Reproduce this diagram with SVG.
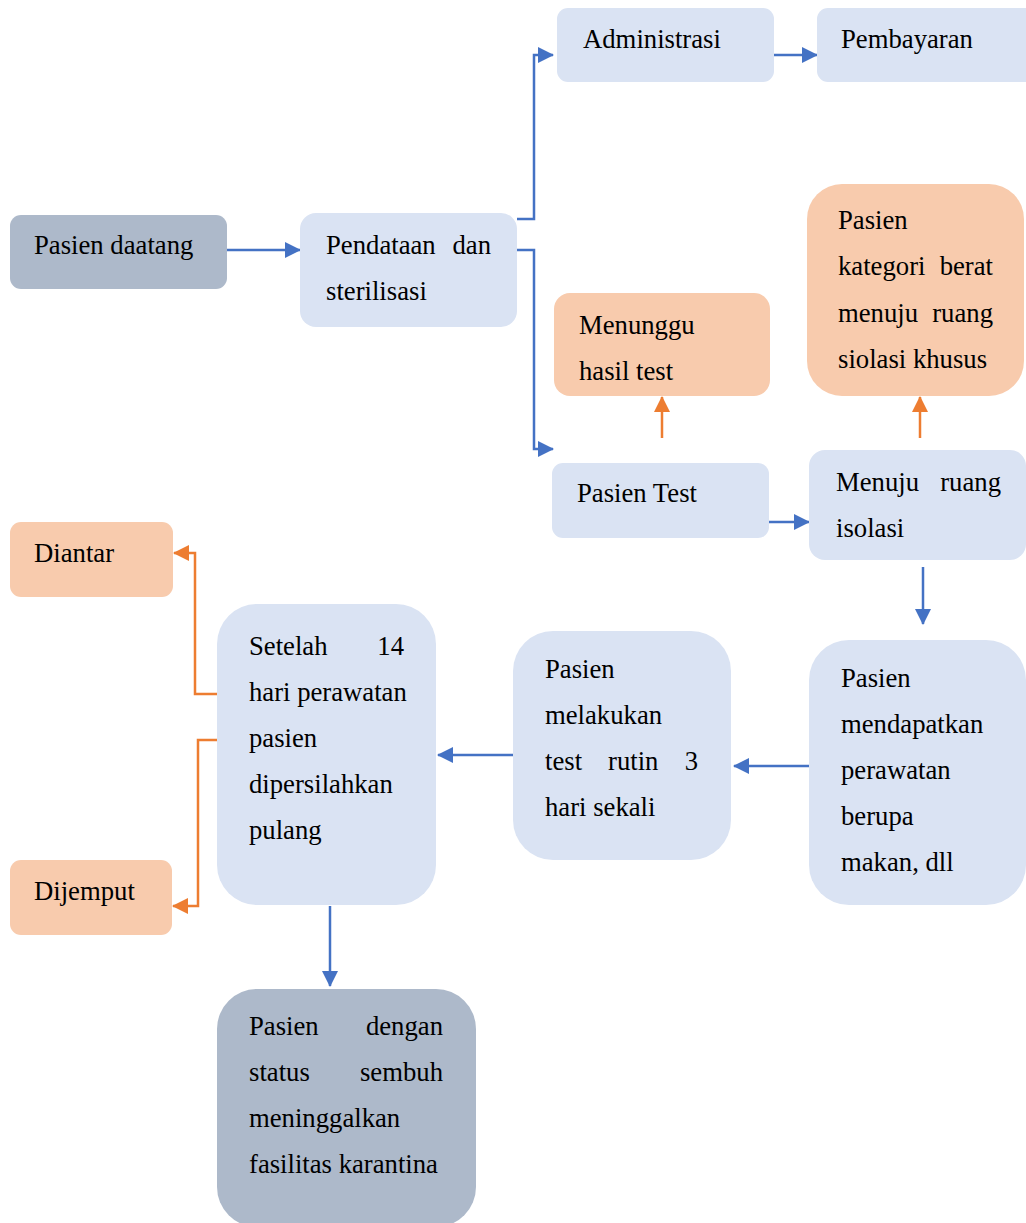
<svg xmlns="http://www.w3.org/2000/svg" width="1026" height="1223" viewBox="0 0 1026 1223">
  <style>
    .blue { fill: #DAE3F3; }
    .orange { fill: #F8CBAD; }
    .gray { fill: #ADB9CA; }
    .lb { fill: none; stroke: #4472C4; stroke-width: 2.5; }
    .lo { fill: none; stroke: #ED7D31; stroke-width: 2.5; }
  </style>
  <defs>
    <marker id="ab" markerUnits="userSpaceOnUse" markerWidth="16" markerHeight="16" refX="15" refY="8" orient="auto">
      <path d="M0,0 L16,8 L0,16 Z" fill="#4472C4"/>
    </marker>
    <marker id="ao" markerUnits="userSpaceOnUse" markerWidth="16" markerHeight="16" refX="15" refY="8" orient="auto">
      <path d="M0,0 L16,8 L0,16 Z" fill="#ED7D31"/>
    </marker>
  </defs>

  <rect width="1026" height="1223" fill="#fff"/>

  <g id="connectors">
    <path class="lb" d="M227,250 H300" marker-end="url(#ab)"/>
    <path class="lb" d="M517,219 H534 V55 H553" marker-end="url(#ab)"/>
    <path class="lb" d="M517,250 H534 V449 H553" marker-end="url(#ab)"/>
    <path class="lb" d="M774,55 H817" marker-end="url(#ab)"/>
    <path class="lo" d="M662,438 V397" marker-end="url(#ao)"/>
    <path class="lb" d="M769,522 H809" marker-end="url(#ab)"/>
    <path class="lo" d="M920,438 V397" marker-end="url(#ao)"/>
    <path class="lb" d="M923,567 V624" marker-end="url(#ab)"/>
    <path class="lb" d="M809,766 H734" marker-end="url(#ab)"/>
    <path class="lb" d="M513,755 H438" marker-end="url(#ab)"/>
    <path class="lo" d="M217,694 H195 V553 H174" marker-end="url(#ao)"/>
    <path class="lo" d="M217,740 H198 V906 H173" marker-end="url(#ao)"/>
    <path class="lb" d="M330,906 V986" marker-end="url(#ab)"/>
  </g>

  <g id="pasien-datang">
    <rect class="gray" x="10" y="215" width="217" height="74" rx="11"/>
    <text font-family="Liberation Serif" font-size="26.7" x="34" y="254">Pasien daatang</text>
  </g>

  <g id="pendataan">
    <rect class="blue" x="300" y="213" width="217" height="114" rx="16"/>
    <text font-family="Liberation Serif" font-size="26.7" x="326" y="254">Pendataan</text>
    <text font-family="Liberation Serif" font-size="26.7" text-anchor="end" x="491" y="254">dan</text>
    <text font-family="Liberation Serif" font-size="26.7" x="326" y="300">sterilisasi</text>
  </g>

  <g id="administrasi">
    <rect class="blue" x="557" y="8" width="217" height="74" rx="11"/>
    <text font-family="Liberation Serif" font-size="26.7" x="583" y="48">Administrasi</text>
  </g>

  <g id="pembayaran">
    <rect class="blue" x="817" y="8" width="222" height="74" rx="11"/>
    <text font-family="Liberation Serif" font-size="26.7" x="841" y="48">Pembayaran</text>
  </g>

  <g id="menunggu">
    <rect class="orange" x="554" y="293" width="216" height="103" rx="16"/>
    <text font-family="Liberation Serif" font-size="26.7" x="579" y="334">Menunggu</text>
    <text font-family="Liberation Serif" font-size="26.7" x="579" y="380">hasil test</text>
  </g>

  <g id="kategori-berat">
    <rect class="orange" x="807" y="184" width="217" height="212" rx="35"/>
    <text font-family="Liberation Serif" font-size="26.7" x="838" y="229">Pasien</text>
    <text font-family="Liberation Serif" font-size="26.7" x="838" y="275">kategori</text>
    <text font-family="Liberation Serif" font-size="26.7" text-anchor="end" x="993" y="275">berat</text>
    <text font-family="Liberation Serif" font-size="26.7" x="838" y="322">menuju</text>
    <text font-family="Liberation Serif" font-size="26.7" text-anchor="end" x="993" y="322">ruang</text>
    <text font-family="Liberation Serif" font-size="26.7" x="838" y="368">siolasi khusus</text>
  </g>

  <g id="pasien-test">
    <rect class="blue" x="552" y="463" width="217" height="75" rx="11"/>
    <text font-family="Liberation Serif" font-size="26.7" x="577" y="502">Pasien Test</text>
  </g>

  <g id="ruang-isolasi">
    <rect class="blue" x="809" y="450" width="217" height="110" rx="16"/>
    <text font-family="Liberation Serif" font-size="26.7" x="836" y="491">Menuju</text>
    <text font-family="Liberation Serif" font-size="26.7" text-anchor="end" x="1001" y="491">ruang</text>
    <text font-family="Liberation Serif" font-size="26.7" x="836" y="537">isolasi</text>
  </g>

  <g id="perawatan">
    <rect class="blue" x="809" y="640" width="217" height="265" rx="40"/>
    <text font-family="Liberation Serif" font-size="26.7" x="841" y="687">Pasien</text>
    <text font-family="Liberation Serif" font-size="26.7" x="841" y="733">mendapatkan</text>
    <text font-family="Liberation Serif" font-size="26.7" x="841" y="779">perawatan</text>
    <text font-family="Liberation Serif" font-size="26.7" x="841" y="825">berupa</text>
    <text font-family="Liberation Serif" font-size="26.7" x="841" y="871">makan, dll</text>
  </g>

  <g id="test-rutin">
    <rect class="blue" x="513" y="631" width="218" height="229" rx="40"/>
    <text font-family="Liberation Serif" font-size="26.7" x="545" y="678">Pasien</text>
    <text font-family="Liberation Serif" font-size="26.7" x="545" y="724">melakukan</text>
    <text font-family="Liberation Serif" font-size="26.7" x="545" y="770">test</text>
    <text font-family="Liberation Serif" font-size="26.7" x="608" y="770">rutin</text>
    <text font-family="Liberation Serif" font-size="26.7" text-anchor="end" x="698" y="770">3</text>
    <text font-family="Liberation Serif" font-size="26.7" x="545" y="816">hari sekali</text>
  </g>

  <g id="pulang">
    <rect class="blue" x="217" y="604" width="219" height="301" rx="40"/>
    <text font-family="Liberation Serif" font-size="26.7" x="249" y="655">Setelah</text>
    <text font-family="Liberation Serif" font-size="26.7" text-anchor="end" x="404" y="655">14</text>
    <text font-family="Liberation Serif" font-size="26.7" x="249" y="701">hari perawatan</text>
    <text font-family="Liberation Serif" font-size="26.7" x="249" y="747">pasien</text>
    <text font-family="Liberation Serif" font-size="26.7" x="249" y="793">dipersilahkan</text>
    <text font-family="Liberation Serif" font-size="26.7" x="249" y="839">pulang</text>
  </g>

  <g id="diantar">
    <rect class="orange" x="10" y="522" width="163" height="75" rx="11"/>
    <text font-family="Liberation Serif" font-size="26.7" x="34" y="562">Diantar</text>
  </g>

  <g id="dijemput">
    <rect class="orange" x="10" y="860" width="162" height="75" rx="11"/>
    <text font-family="Liberation Serif" font-size="26.7" x="34" y="900">Dijemput</text>
  </g>

  <g id="sembuh">
    <rect class="gray" x="217" y="989" width="259" height="238" rx="40"/>
    <text font-family="Liberation Serif" font-size="26.7" x="249" y="1035">Pasien</text>
    <text font-family="Liberation Serif" font-size="26.7" text-anchor="end" x="443" y="1035">dengan</text>
    <text font-family="Liberation Serif" font-size="26.7" x="249" y="1081">status</text>
    <text font-family="Liberation Serif" font-size="26.7" text-anchor="end" x="443" y="1081">sembuh</text>
    <text font-family="Liberation Serif" font-size="26.7" x="249" y="1127">meninggalkan</text>
    <text font-family="Liberation Serif" font-size="26.7" x="249" y="1173">fasilitas karantina</text>
  </g>
</svg>
